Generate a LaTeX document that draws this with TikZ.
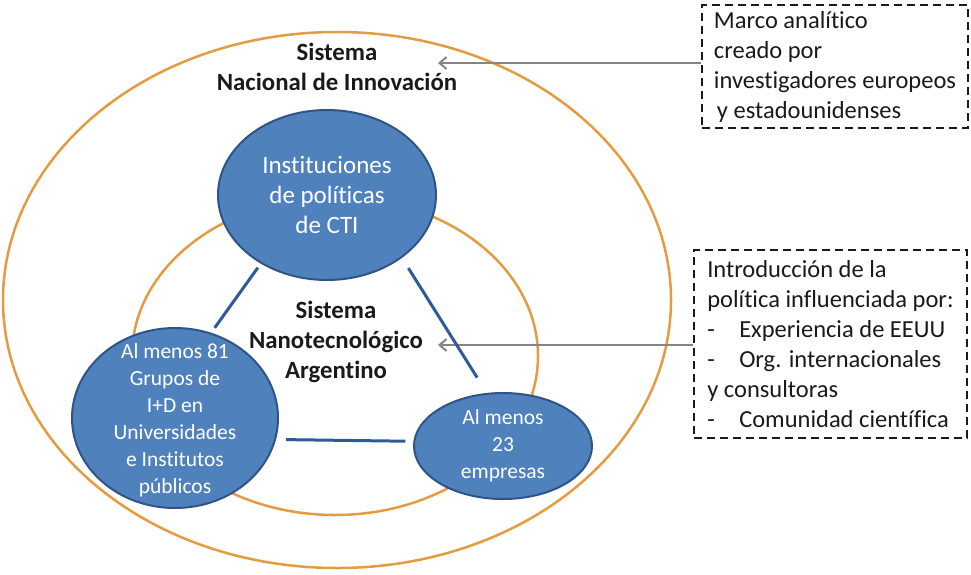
\documentclass[tikz,border=0pt]{standalone}
\usepackage{fontspec}
\setmainfont{Carlito}[Ligatures=NoCommon]
\usetikzlibrary{shapes.geometric,arrows.meta}
\definecolor{orng}{HTML}{E59B40}
\definecolor{bfill}{HTML}{4F81BD}
\definecolor{bdraw}{HTML}{2F5488}
\definecolor{blink}{HTML}{2E5A9C}
\definecolor{arrgray}{HTML}{858585}
\definecolor{txt}{HTML}{1A1A1A}
\begin{document}
\begin{tikzpicture}[x=1pt,y=-1pt,
  ring/.style={draw=orng, line width=2.5pt, ellipse, inner sep=0pt},
  blob/.style={ellipse, fill=bfill, draw=bdraw, line width=2pt, inner sep=0pt},
  blobtext/.style={text=white, align=center, inner sep=0pt, font=\fontsize{21.5}{27}\selectfont},
  link/.style={draw=blink, line width=3pt},
  lbl/.style={align=center, text=txt, font=\bfseries\fontsize{24.8}{30}\selectfont},
  note/.style={draw=txt, line width=2.2pt, dash pattern=on 8pt off 5pt, align=left, inner sep=0pt, text=txt, font=\fontsize{24.5}{30}\selectfont},
  pointer/.style={draw=arrgray, line width=2pt, -{Straight Barb[length=7pt,width=12pt]}}
]
\useasboundingbox (0,0) rectangle (971,574);
\fill[white] (0,0) rectangle (971,574);
% rings
\node[ring, minimum width=668pt, minimum height=536pt] (outer) at (337,300) {};
\node[ring, minimum width=406pt, minimum height=318pt] (inner) at (335,356) {};
% boxes and pointers
\node[note, minimum width=266pt, minimum height=123pt] (box1) at (835,66.5)
  {Marco analítico\\creado por\\investigadores europeos\\\hspace{3pt}y estadounidenses};
\node[note, minimum width=273pt, minimum height=188pt] (box2) at (830.5,344)
  {Introducción de la\\política influenciada por:\\\makebox[32pt][l]{-}Experiencia de EEUU\\\makebox[32pt][l]{-}Org. internacionales\\y consultoras\\\makebox[32pt][l]{-}Comunidad científica};
\coordinate (tip1) at (438,63);
\coordinate (tip2) at (438,345);
\draw[pointer] (box1.west |- tip1) -- (tip1);
\draw[pointer] (box2.west |- tip2) -- (tip2);
% blobs
\node[blob, minimum width=218pt, minimum height=170pt] (top) at (327,195) {};
\node[blobtext, font=\fontsize{25}{30}\selectfont] (toptxt) at (top.center) {Instituciones\\de políticas\\de CTI};
\node[blob, minimum width=206pt, minimum height=180pt] (left) at (175,418) {};
\node[blobtext] (lefttxt) at ([yshift=-2pt]left.center) {Al menos 81\\Grupos de\\I+D en\\Universidades\\e Institutos\\públicos};
\node[blob, minimum width=178pt, minimum height=106pt] (right) at (503,446) {};
\node[blobtext] (righttxt) at (right.center) {Al menos\\23\\empresas};
% links
\draw[link, shorten <=5pt, shorten >=6pt] (top.226) -- (left.67);
\draw[link, shorten <=12pt, shorten >=18pt] (top.320) -- (right.107);
\draw[link, shorten <=10pt, shorten >=8pt] (left.-12) -- (right.177);
% labels
\node[lbl] (sni) at (337,67) {Sistema\\Nacional de Innovación};
\node[lbl] (snn) at (336,342) {Sistema\\Nanotecnológico\\Argentino};
\end{tikzpicture}
\end{document}
